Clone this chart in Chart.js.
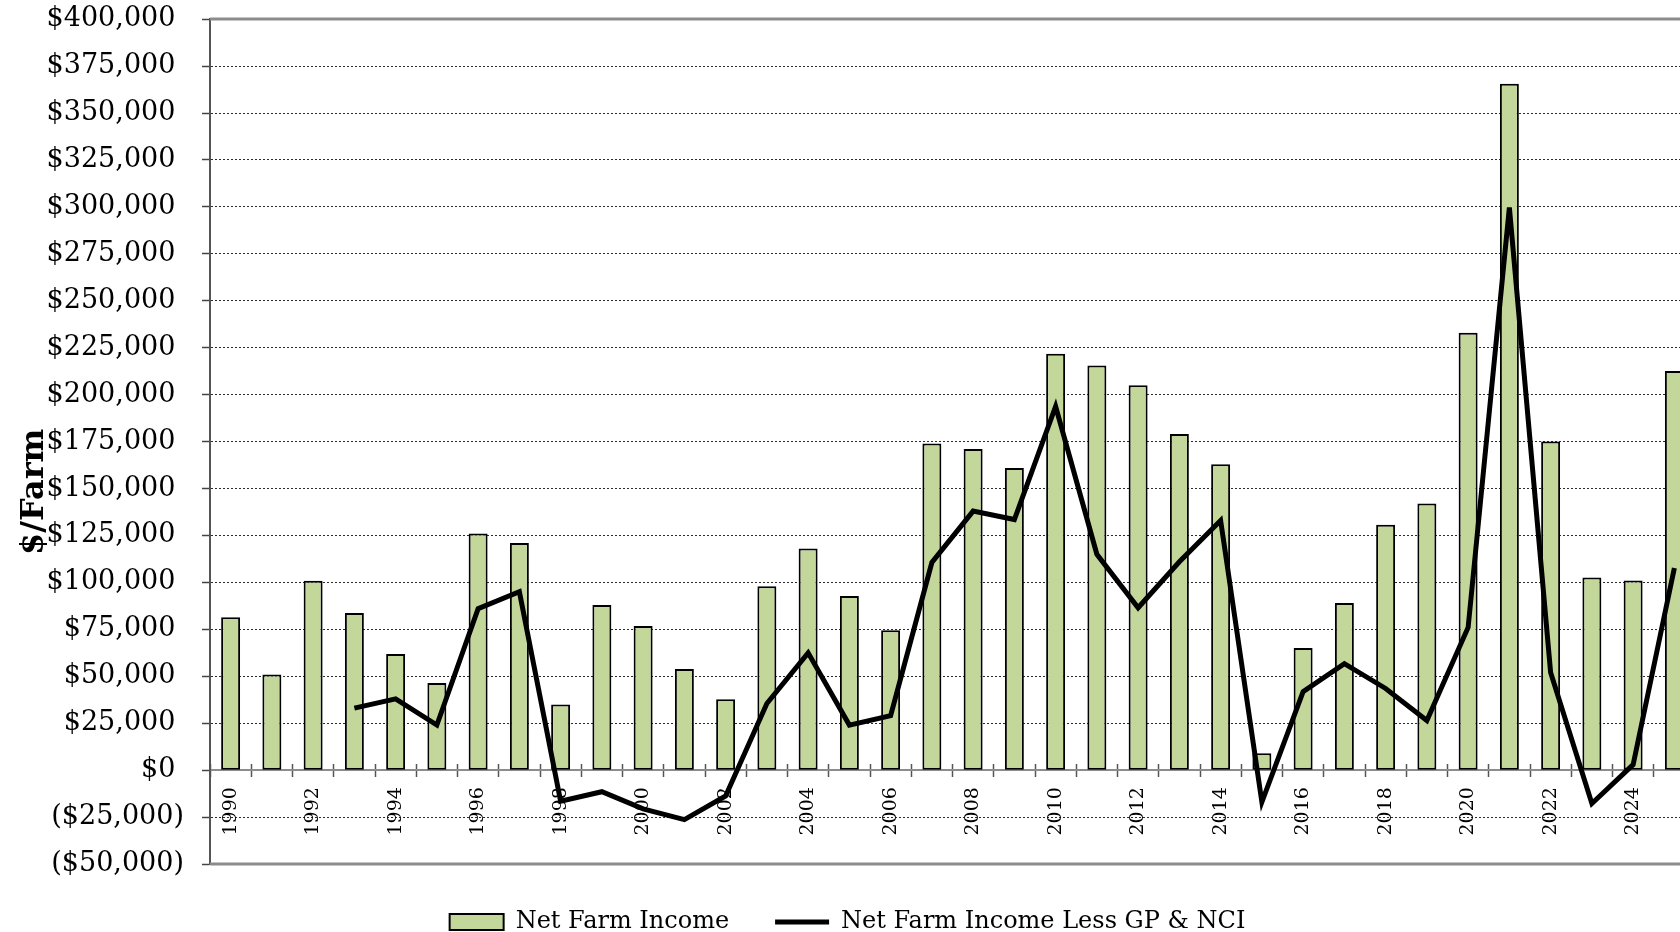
<!DOCTYPE html>
<html>
<head>
<meta charset="utf-8">
<title>Net Farm Income</title>
<script src="https://cdn.jsdelivr.net/npm/chart.js@4.4.1/dist/chart.umd.min.js"></script>
<style>
  html, body { margin:0; padding:0; overflow:hidden; background:#fff; }
  #wrap { position:absolute; left:0; top:-15px; width:1720px; height:959px; }
</style>
</head>
<body>
<div id="wrap"><canvas id="chart"></canvas></div>
<script>
// values, $/farm
const years = ['1990','1991','1992','1993','1994','1995','1996','1997','1998','1999',
  '2000','2001','2002','2003','2004','2005','2006','2007','2008','2009',
  '2010','2011','2012','2013','2014','2015','2016','2017','2018','2019',
  '2020','2021','2022','2023','2024','2025'];

const netFarmIncome = [81400, 51000, 100900, 83700, 61900, 46400, 126000, 121000, 35000, 88000,
  76800, 53900, 37800, 98000, 118000, 92800, 74500, 174000, 171000, 161000,
  221800, 215500, 205000, 179000, 163000, 9000, 65000, 89000, 130700, 142000,
  233000, 365600, 175000, 102600, 101000, 212600];

const netLessGpNci = [null, null, null, 33000, 38000, 24000, 86000, 95000, -16600, -11500,
  -20600, -26400, -13800, 35500, 62500, 24000, 29000, 110600, 138000, 133500,
  193700, 115000, 86500, 111000, 133000, -17000, 41800, 56700, 43500, 26400,
  76000, 299700, 52000, -17800, 2900, 107700];

const yMin = -50000, yMax = 400000, yStep = 25000;

const SERIF = '"DejaVu Serif", serif';

function money(v){
  const s = '$' + Math.abs(v).toLocaleString('en-US');
  return v < 0 ? '(' + s + ')' : s + '\u2008';
}

// grey frame lines at top/bottom of the plot
const frame = {
  id: 'frame',
  beforeDatasetsDraw(chart){
    const {ctx, chartArea, scales} = chart;
    ctx.save();
    ctx.strokeStyle = '#8c8c8c';
    ctx.lineWidth = 3;
    [yMax, yMin].forEach(v => {
      const y = Math.round(scales.y.getPixelForValue(v));
      ctx.beginPath();
      ctx.moveTo(chartArea.left, y);
      ctx.lineTo(chartArea.right, y);
      ctx.stroke();
    });
    ctx.restore();
  }
};

Chart.defaults.font.family = SERIF;
Chart.defaults.color = '#000';

new Chart(document.getElementById('chart'), {
  type: 'bar',
  data: {
    labels: years,
    datasets: [
      {
        label: 'Net Farm Income',
        data: netFarmIncome,
        backgroundColor: '#C4D79B',
        borderColor: '#000',
        borderWidth: 2,
        borderSkipped: false,
        barPercentage: 0.46,
        categoryPercentage: 1,
        order: 1
      },
      {
        type: 'line',
        label: 'Net Farm Income Less GP & NCI',
        data: netLessGpNci,
        borderColor: '#000',
        backgroundColor: '#000',
        borderWidth: 5,
        pointRadius: 0,
        tension: 0,
        order: 0
      }
    ]
  },
  options: {
    responsive: true,
    maintainAspectRatio: false,
    animation: false,
    layout: { padding: { top: 4, right: 25, bottom: 0, left: 0 } },
    plugins: {
      tooltip: { enabled: false },
      legend: {
        position: 'bottom',
        labels: {
          font: { size: 24, family: SERIF },
          usePointStyle: true,
          pointStyleWidth: 54,
          boxHeight: 16,
          padding: 46,
          sort: (a, b) => a.datasetIndex - b.datasetIndex,
          generateLabels(chart){
            const items = Chart.defaults.plugins.legend.labels.generateLabels(chart);
            items.forEach(it => { it.pointStyle = it.datasetIndex === 0 ? 'rect' : 'line'; });
            return items;
          }
        }
      }
    },
    scales: {
      x: {
        position: { y: 0 },
        offset: true,
        grid: { offset: true, drawOnChartArea: false, tickLength: 6, tickColor: '#555', tickWidth: 1.5 },
        border: { display: true, color: '#8c8c8c', width: 2 },
        ticks: {
          autoSkip: false,
          maxRotation: 90,
          minRotation: 90,
          padding: 11,
          font: { size: 19, family: SERIF },
          callback: (v, i) => i % 2 === 0 ? years[i] : ''
        }
      },
      xUp: {
        type: 'category',
        position: { y: 0 },
        offset: true,
        grid: { offset: true, drawOnChartArea: false, tickLength: -6, tickColor: '#555', tickWidth: 1.5 },
        border: { display: false },
        ticks: { display: false }
      },
      y: {
        min: yMin,
        max: yMax,
        afterFit: s => { s.width = 210; },
        ticks: {
          stepSize: yStep,
          padding: 18,
          font: { size: 27, family: SERIF },
          callback: v => money(v)
        },
        grid: {
          color: c => (c.tick && (c.tick.value === yMax || c.tick.value === yMin)) ? 'rgba(0,0,0,0)' : '#2a2a2a',
          lineWidth: 1,
          tickLength: 8,
          tickColor: '#444',
          tickWidth: 1.5,
          tickBorderDash: []
        },
        border: { display: true, color: '#555', width: 2, dash: [2, 2] },
        title: {
          display: true,
          // trailing spaces push the title below the middle of the axis, as in the original
          text: '$/Farm' + '\u00a0'.repeat(9),
          font: { size: 32, weight: 'bold', family: SERIF },
          padding: { top: 15, bottom: 0 }
        }
      }
    }
  },
  plugins: [frame]
});
</script>
</body>
</html>
